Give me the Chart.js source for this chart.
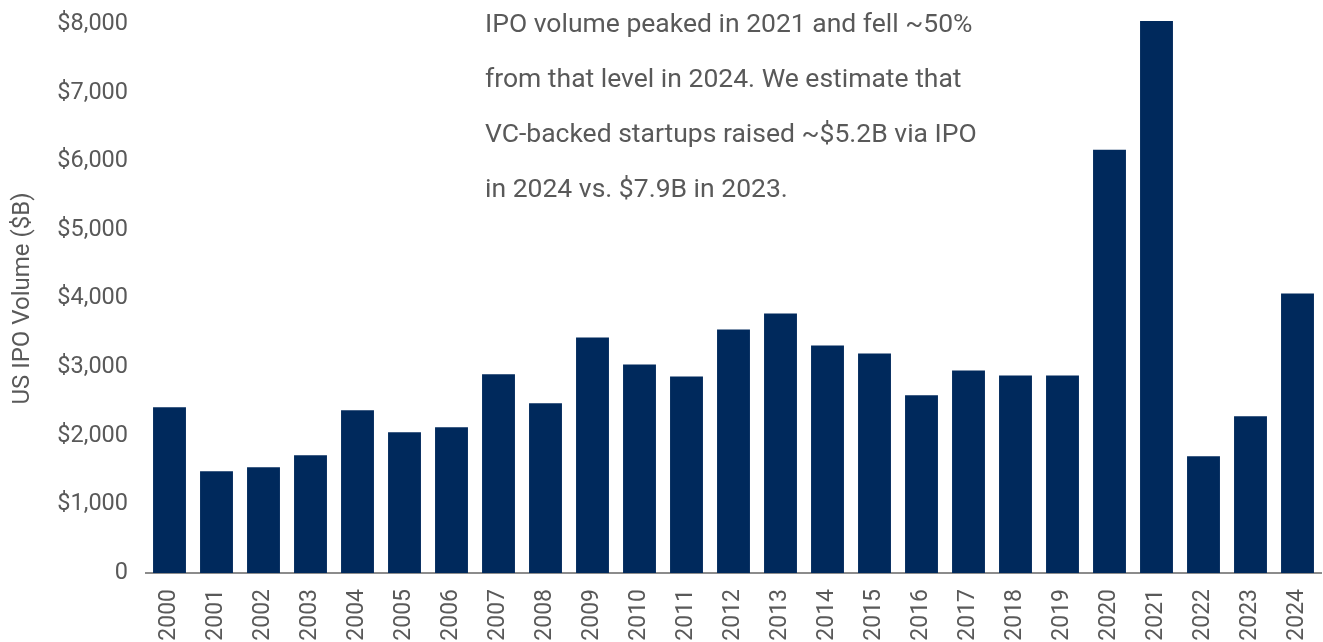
<!DOCTYPE html>
<html>
<head>
<meta charset="utf-8">
<script src="https://cdn.jsdelivr.net/npm/chart.js"></script>
<style>
  html, body { margin: 0; padding: 0; background: #ffffff; }
  #wrap { position: relative; width: 1323px; height: 642px; }
  #note {
    position: absolute; left: 485px; top: -5px;
    font-family: Roboto, sans-serif; font-size: 26.5px; line-height: 55px;
    color: #595959; white-space: nowrap;
  }
</style>
</head>
<body>
<div id="wrap">
  <canvas id="chart1" width="1323" height="642"></canvas>
  <div id="note">IPO volume peaked in 2021 and fell ~50%<br>from that level in 2024. We estimate that<br>VC-backed startups raised ~$5.2B via IPO<br>in 2024 vs. $7.9B in 2023.</div>
</div>
<script>
const years = ['2000','2001','2002','2003','2004','2005','2006','2007','2008','2009',
  '2010','2011','2012','2013','2014','2015','2016','2017','2018','2019',
  '2020','2021','2022','2023','2024'];
const ipoVolume = [2415, 1484, 1542, 1716, 2371, 2051, 2124, 2895, 2473, 3433,
  3040, 2865, 3549, 3782, 3316, 3200, 2589, 2953, 2880, 2880,
  6167, 8044, 1702, 2284, 4073];
const yTicks = [0, 1000, 2000, 3000, 4000, 5000, 6000, 7000, 8000];

const textGray = '#595959';
Chart.defaults.font.family = 'Roboto, sans-serif';

const ctx = document.getElementById('chart1').getContext('2d');
const chart1 = new Chart(ctx, {
  type: 'bar',
  data: {
    labels: years,
    datasets: [{
      label: 'US IPO Volume',
      data: ipoVolume,
      backgroundColor: '#00295c',
      borderWidth: 0,
      categoryPercentage: 1,
      barPercentage: 0.7,
      clip: false
    }]
  },
  options: {
    responsive: false,
    animation: false,
    layout: { padding: { top: 16, right: 2, left: 0, bottom: 0 } },
    plugins: {
      legend: { display: false },
      tooltip: { enabled: false }
    },
    scales: {
      x: {
        grid: { display: false },
        border: { display: true, color: '#8c8c8c', width: 2 },
        ticks: {
          color: textGray,
          font: { size: 23 },
          minRotation: 90,
          maxRotation: 90,
          padding: 8
        },
        afterFit: s => { s.height = 69; s.paddingRight = 0; s.paddingLeft = 0; }
      },
      y: {
        min: 0,
        max: 8000,
        afterBuildTicks: s => { s.ticks = yTicks.map(v => ({ value: v })); },
        grid: { display: false },
        border: { display: false },
        ticks: {
          color: textGray,
          font: { size: 23.5 },
          padding: 10,
          callback: v => v === 0 ? '0' : '$' + v.toLocaleString('en-US')
        },
        title: {
          display: true,
          text: 'US IPO Volume ($B)',
          color: textGray,
          font: { size: 24 },
          padding: { top: 9, bottom: 0 }
        },
        afterFit: s => { s.width = 146; }
      }
    }
  }
});
</script>
</body>
</html>
